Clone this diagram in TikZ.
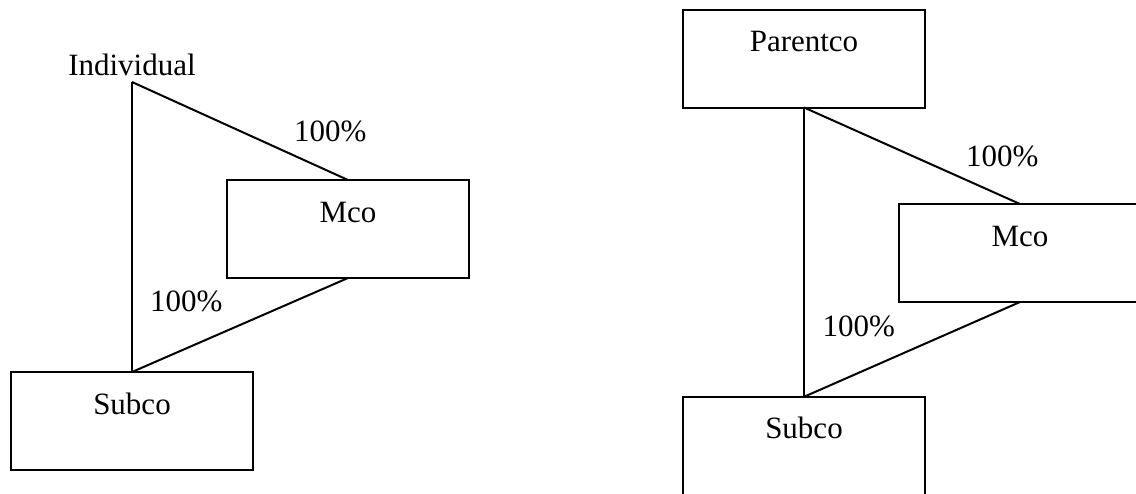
\documentclass[tikz,border=0pt]{standalone}
\usepackage{fontspec}
\setmainfont{Liberation Serif}
\begin{document}
\begin{tikzpicture}[x=1pt, y=-1pt,
  line width=2pt,
  every node/.style={font=\fontsize{31}{36}\selectfont, outer sep=0pt},
  entity/.style={draw, rectangle, anchor=north west, inner sep=0pt,
    minimum width=242pt, text height=42pt, text depth=56pt},
  pct/.style={anchor=base west, inner sep=0pt},
  owns/.style={draw, line join=miter}
]
\useasboundingbox (0,0) rectangle (1136,493);
\clip (0,0) rectangle (1136,493);

% Individual holding structure
\node[anchor=south, inner sep=6pt] (ind) at (132,82) {Individual};
\node[entity] (mcoL) at (227,180) {Mco};
\node[entity] (subL) at (11,372) {Subco};
\node[pct] (pL1) at (294,141.7) {100\%};
\node[pct] (pL2) at (150,311.7) {100\%};
\draw[owns] (ind.south) -- (mcoL.north);
\draw[owns] (ind.south) -- (subL.north);
\draw[owns] (mcoL.south) -- (subL.north);

% Parent company holding structure
\node[entity] (par) at (683,9.5) {Parentco};
\node[entity] (mcoR) at (899,204) {Mco};
\node[entity] (subR) at (683,396.8) {Subco};
\node[pct] (pR1) at (966,166.7) {100\%};
\node[pct] (pR2) at (822.5,336) {100\%};
\draw[owns] (par.south) -- (mcoR.north);
\draw[owns] (par.south) -- (subR.north);
\draw[owns] (mcoR.south) -- (subR.north);
\end{tikzpicture}
\end{document}
